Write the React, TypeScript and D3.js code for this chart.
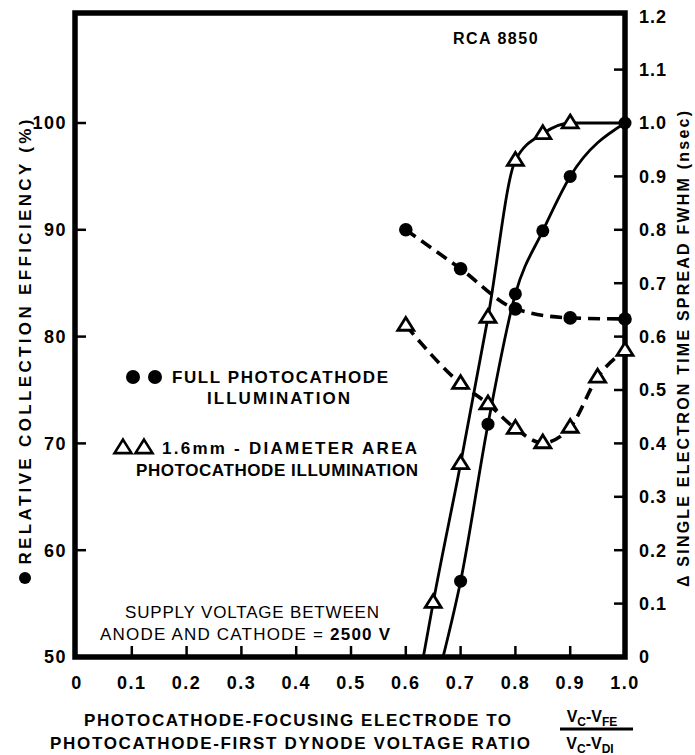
import React from 'react';
import * as d3 from 'd3';

const xTickValues = [0, 0.1, 0.2, 0.3, 0.4, 0.5, 0.6, 0.7, 0.8, 0.9, 1.0];
const xTickLabels = ['0', '0.1', '0.2', '0.3', '0.4', '0.5', '0.6', '0.7', '0.8', '0.9', '1.0'];
const leftTickValues = [50, 60, 70, 80, 90, 100];
const rightTickValues = [0, 0.1, 0.2, 0.3, 0.4, 0.5, 0.6, 0.7, 0.8, 0.9, 1.0, 1.1, 1.2];
const rightTickLabels = ['0', '0.1', '0.2', '0.3', '0.4', '0.5', '0.6', '0.7', '0.8', '0.9', '1.0', '1.1', '1.2'];

// Collection efficiency (left axis, %), solid lines
const fullEffX = [0.7, 0.75, 0.8, 0.85, 0.9, 1.0];
const fullEffY = [57.1, 71.8, 84.0, 89.9, 95.0, 100];
const smallEffX = [0.65, 0.7, 0.75, 0.8, 0.85, 0.9];
const smallEffY = [55.1, 68.1, 81.8, 96.5, 99.0, 100];
// where the solid lines meet the bottom axis / right axis (line only, no marker)
const fullEffStart = [0.668, 50];
const smallEffStart = [0.632, 50];
const smallEffEnd = [1.0, 100];

// Time spread (right axis, nsec), dashed lines
const fullTtsX = [0.6, 0.7, 0.8, 0.9, 1.0];
const fullTtsY = [0.8, 0.727, 0.652, 0.635, 0.633];
const smallTtsX = [0.6, 0.7, 0.75, 0.8, 0.85, 0.9, 0.95, 1.0];
const smallTtsY = [0.621, 0.512, 0.474, 0.428, 0.401, 0.43, 0.524, 0.574];

const W = 695;
const H = 755;
const FONT = "'Liberation Sans', Arial, Helvetica, sans-serif";

const x = d3.scaleLinear().domain([0, 1]).range([77, 625]);
const yL = d3.scaleLinear().domain([50, 100]).range([657, 123]);
const yR = d3.scaleLinear().domain([0, 1]).range([657, 123]);

const LEFT = 75;
const RIGHT = 625;
const TOP = 13;
const BOTTOM = 657;

function tri(cx: number, cy: number, s = 15) {
  const h = s * 0.8;
  return `M${cx},${cy - h * 0.62}L${cx + s / 2},${cy + h * 0.38}L${cx - s / 2},${cy + h * 0.38}Z`;
}

export default function App() {
  const lineL = d3
    .line<[number, number]>()
    .x((d) => x(d[0]))
    .y((d) => yL(d[1]))
    .curve(d3.curveMonotoneX);
  const lineR = d3
    .line<[number, number]>()
    .x((d) => x(d[0]))
    .y((d) => yR(d[1]))
    .curve(d3.curveMonotoneX);

  const fullEffPts: [number, number][] = [fullEffStart as [number, number], ...fullEffX.map((v, i) => [v, fullEffY[i]] as [number, number])];
  const smallEffPts: [number, number][] = [
    smallEffStart as [number, number],
    ...smallEffX.map((v, i) => [v, smallEffY[i]] as [number, number]),
    smallEffEnd as [number, number],
  ];
  const fullTtsPts: [number, number][] = fullTtsX.map((v, i) => [v, fullTtsY[i]]);
  const smallTtsPts: [number, number][] = smallTtsX.map((v, i) => [v, smallTtsY[i]]);

  const bold = { fontFamily: FONT, fontWeight: 700, fill: '#000' } as const;

  return (
    <svg width={W} height={H} style={{ position: 'absolute', left: 0, top: 0, background: '#fff' }}>
      <rect x={0} y={0} width={W} height={H} fill="#fff" />

      {/* ticks */}
      {leftTickValues.slice(1).map((v) => (
        <line key={'lt' + v} x1={LEFT} x2={LEFT + 11} y1={yL(v)} y2={yL(v)} stroke="#000" strokeWidth={2.5} />
      ))}
      {xTickValues.slice(1, -1).map((v) => (
        <line key={'xt' + v} x1={x(v)} x2={x(v)} y1={BOTTOM} y2={BOTTOM - 11} stroke="#000" strokeWidth={2.5} />
      ))}
      {rightTickValues.filter((v) => v > 0 && v < 1.2 && Math.abs(v - 1) > 1e-6).map((v) => (
        <line key={'rt' + v} x1={RIGHT} x2={RIGHT - 11} y1={yR(v)} y2={yR(v)} stroke="#000" strokeWidth={2.5} />
      ))}

      {/* frame */}
      <rect x={LEFT} y={TOP} width={RIGHT - LEFT} height={BOTTOM - TOP} fill="none" stroke="#000" strokeWidth={5.5} />

      {/* tick labels */}
      {leftTickValues.map((v) => (
        <text key={'ll' + v} x={67} y={yL(v)} dy="0.36em" textAnchor="end" fontSize={18} letterSpacing={1.5} {...bold}>
          {v}
        </text>
      ))}
      {xTickValues.map((v, i) => (
        <text key={'xl' + v} x={x(v)} y={683} dy="0.36em" textAnchor="middle" fontSize={18} letterSpacing={1.5} {...bold}>
          {xTickLabels[i]}
        </text>
      ))}
      {rightTickValues.map((v, i) => (
        <text key={'rl' + v} x={639} y={yR(v)} dy="0.36em" textAnchor="start" fontSize={18} letterSpacing={1} {...bold}>
          {rightTickLabels[i]}
        </text>
      ))}

      {/* data lines */}
      <path d={lineL(smallEffPts) || ''} fill="none" stroke="#000" strokeWidth={2.8} />
      <path d={lineL(fullEffPts) || ''} fill="none" stroke="#000" strokeWidth={2.8} />
      <path d={lineR(fullTtsPts) || ''} fill="none" stroke="#000" strokeWidth={3.6} strokeDasharray="12,7" />
      <path d={lineR(smallTtsPts) || ''} fill="none" stroke="#000" strokeWidth={3.6} strokeDasharray="12,7" />

      {/* markers */}
      {fullEffX.map((v, i) => (
        <circle key={'fe' + i} cx={x(v)} cy={yL(fullEffY[i])} r={6.5} fill="#000" />
      ))}
      {fullTtsX.map((v, i) => (
        <circle key={'ft' + i} cx={x(v)} cy={yR(fullTtsY[i])} r={6.8} fill="#000" />
      ))}
      {smallEffX.map((v, i) => (
        <path key={'se' + i} d={tri(x(v), yL(smallEffY[i]), 16)} fill="#fff" stroke="#000" strokeWidth={2.8} />
      ))}
      {smallTtsX.map((v, i) => (
        <path key={'st' + i} d={tri(x(v), yR(smallTtsY[i]), 16)} fill="#fff" stroke="#000" strokeWidth={2.8} />
      ))}

      {/* title */}
      <text x={496} y={38} dy="0.36em" textAnchor="middle" fontSize={16} letterSpacing={1.5} {...bold}>
        RCA 8850
      </text>

      {/* legend */}
      <circle cx={133} cy={377} r={7} fill="#000" />
      <circle cx={155} cy={377} r={7} fill="#000" />
      <text x={172} y={377} dy="0.36em" fontSize={17} textLength={216} lengthAdjust="spacing" {...bold}>
        FULL PHOTOCATHODE
      </text>
      <text x={207} y={398} dy="0.36em" fontSize={17} textLength={143} lengthAdjust="spacing" {...bold}>
        ILLUMINATION
      </text>
      <path d={tri(123, 448, 17)} fill="#fff" stroke="#000" strokeWidth={2.6} />
      <path d={tri(144, 448, 17)} fill="#fff" stroke="#000" strokeWidth={2.6} />
      <text x={162} y={448} dy="0.36em" fontSize={17} textLength={255} lengthAdjust="spacing" {...bold}>
        1.6mm - DIAMETER AREA
      </text>
      <text x={136} y={470} dy="0.36em" fontSize={17} textLength={282} lengthAdjust="spacing" {...bold}>
        PHOTOCATHODE ILLUMINATION
      </text>

      {/* supply voltage note */}
      <text x={125} y={612} dy="0.36em" fontSize={17} textLength={254} lengthAdjust="spacing" fontFamily={FONT} fontWeight={400} fill="#000">
        SUPPLY VOLTAGE BETWEEN
      </text>
      <text x={100} y={634} dy="0.36em" fontSize={17} textLength={290} lengthAdjust="spacing" fontFamily={FONT} fontWeight={400} fill="#000">
        ANODE AND CATHODE = <tspan fontWeight={700}>2500 V</tspan>
      </text>

      {/* axis titles */}
      <circle cx={25} cy={578} r={6} fill="#000" />
      <text transform="translate(25,342) rotate(-90)" textAnchor="middle" dy="0.36em" fontSize={17} textLength={445} lengthAdjust="spacing" {...bold}>
        RELATIVE COLLECTION EFFICIENCY (%)
      </text>
      <text transform="translate(683,349) rotate(-90)" textAnchor="middle" dy="0.36em" fontSize={16} textLength={476} lengthAdjust="spacing" {...bold}>
        Δ SINGLE ELECTRON TIME SPREAD FWHM (nsec)
      </text>

      <text x={84} y={720} dy="0.36em" fontSize={17} textLength={427} lengthAdjust="spacing" {...bold}>
        PHOTOCATHODE-FOCUSING ELECTRODE TO
      </text>
      <text x={50} y={743} dy="0.36em" fontSize={17} textLength={480} lengthAdjust="spacing" {...bold}>
        PHOTOCATHODE-FIRST DYNODE VOLTAGE RATIO
      </text>

      {/* fraction */}
      <text x={592} y={716} dy="0.36em" textAnchor="middle" fontSize={16} {...bold}>
        V<tspan fontSize={12} dy="4">C</tspan>
        <tspan dy="-4">-V</tspan>
        <tspan fontSize={12} dy="4">FE</tspan>
      </text>
      <line x1={560} x2={633} y1={729} y2={729} stroke="#000" strokeWidth={2.8} />
      <text x={590} y={743} dy="0.36em" textAnchor="middle" fontSize={16} {...bold}>
        V<tspan fontSize={12} dy="4">C</tspan>
        <tspan dy="-4">-V</tspan>
        <tspan fontSize={12} dy="4">DI</tspan>
      </text>
    </svg>
  );
}
